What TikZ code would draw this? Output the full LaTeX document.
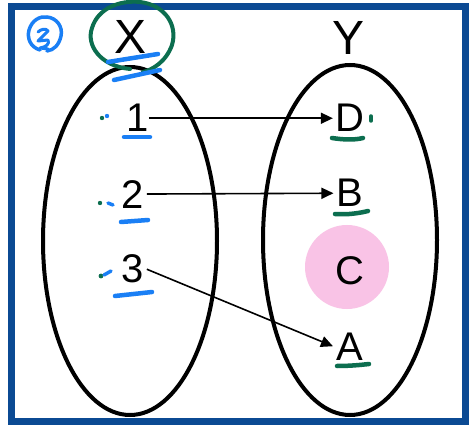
\documentclass[tikz,border=0pt]{standalone}
\usepackage{fontspec}
\setmainfont{Liberation Sans}
\usetikzlibrary{arrows.meta}
\definecolor{frameblue}{HTML}{0B4A93}
\definecolor{penblue}{HTML}{1A7FF5}
\definecolor{pengreen}{HTML}{0C6E4F}
\definecolor{pinkfill}{HTML}{F9C3E6}
\tikzset{
  setoval/.style={draw=black, line width=4pt},
  biglabel/.style={inner sep=0pt, anchor=base, font=\fontsize{48}{50}\selectfont},
  elem/.style={inner sep=0pt, anchor=base, font=\fontsize{40}{44}\selectfont},
  maparrow/.style={draw=black, line width=1.6pt, -{Triangle[length=12pt,width=11pt]}},
  bluemark/.style={draw=penblue, line width=4.5pt, line cap=round, line join=round},
  greenmark/.style={draw=pengreen, line width=4.5pt, line cap=round, line join=round},
}
\begin{document}
\begin{tikzpicture}[x=1pt, y=-1pt]
\useasboundingbox (0,0) rectangle (469,425);
\fill[white] (0,0) rectangle (469,425);
% frame
\draw[frameblue, line width=7pt] (11.5,6.5) rectangle (465.5,421.5);
% pink highlight
\fill[pinkfill] (347,267) circle[radius=42];
% sets
\draw[setoval] (130,241) ellipse[x radius=87, y radius=174];
\draw[setoval] (350,240) ellipse[x radius=87, y radius=175];
% titles
\node[biglabel] (X) at (131,54) {X};
\node[biglabel] (Y) at (349,55) {Y};
% elements
\node[elem] (n1) at (137.5,132) {1};
\node[elem] (n2) at (132.5,208) {2};
\node[elem] (n3) at (132.5,283) {3};
\node[elem] (D) at (349.5,132) {D};
\node[elem] (B) at (350,207) {B};
\node[elem] (C) at (350,284) {C};
\node[elem] (A) at (349.5,360) {A};
% arrows
\draw[maparrow] (n1.east) -- ([xshift=-2pt]D.west);
\draw[maparrow] ([xshift=3pt]n2.east) -- ([xshift=-3pt]B.west);
\draw[maparrow] ([xshift=3pt]n3.east) -- ([xshift=-3pt]A.west);
% green circle around X
\draw[greenmark, line width=4pt] (130,69) .. controls (100,66) and (86,45) .. (92,28)
  .. controls (98,8) and (120,0) .. (140,2)
  .. controls (165,5) and (178,25) .. (172,45)
  .. controls (166,62) and (152,70) .. (143,72);
% blue underlines of X
\draw[bluemark] (108,62) -- (158,54);
\draw[bluemark] (114,80) -- (160,70);
% circled 2 (blue)
\draw[penblue, line width=3.5pt, line cap=round] (40,50) .. controls (30,47) and (27,38) .. (29,30)
  .. controls (32,20) and (40,16) .. (47,17)
  .. controls (57,18) and (63,27) .. (61,36)
  .. controls (59,45) and (54,50) .. (47,51);
\draw[penblue, line width=3pt, line cap=round, line join=round]
  (38,32) .. controls (41,29) and (46,28) .. (48,31) -- (38,41) -- (48,40)
  .. controls (50,44) and (46,47) .. (40,48) -- (48,49);
% marks near 1, 2, 3
\fill[pengreen] (102,118) circle[radius=2.2];
\fill[penblue] (107,116) circle[radius=2.2];
\draw[bluemark] (124,137) -- (150,137);
\fill[pengreen] (100,203) circle[radius=2.2];
\draw[penblue, line width=3.5pt, line cap=round] (108,203) -- (113,205);
\draw[bluemark] (121,222) -- (148,220);
\fill[pengreen] (101,276) circle[radius=2.4];
\draw[penblue, line width=3.5pt, line cap=round] (104,275) -- (111,271);
\draw[bluemark] (115,296) -- (152,292);
% green marks near D, B, A
\draw[greenmark] (332,138) .. controls (345,140) and (355,140) .. (363,138);
\draw[greenmark, line width=3.5pt] (371,116) -- (371,121);
\draw[greenmark] (335,214) .. controls (348,215) and (360,213) .. (368,211);
\draw[greenmark] (337,366) .. controls (350,366) and (360,365) .. (369,364);
\end{tikzpicture}
\end{document}
